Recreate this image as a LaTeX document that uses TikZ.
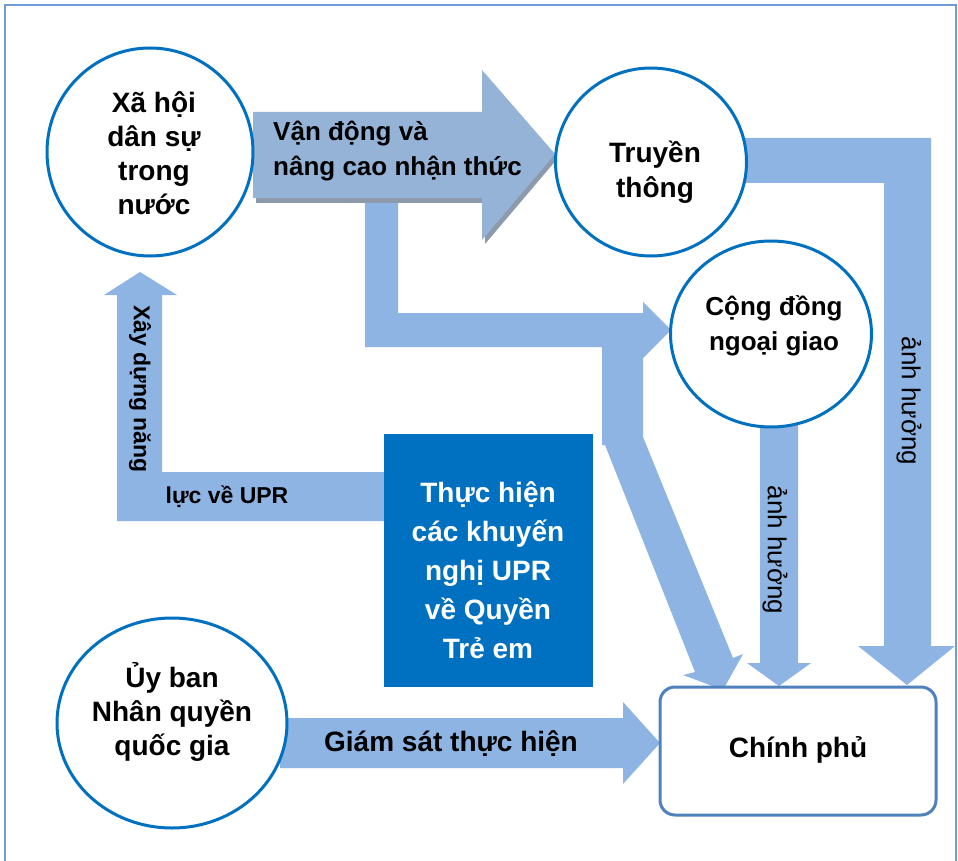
\documentclass[tikz,border=0pt]{standalone}
\usepackage{fontspec}
\setmainfont{Liberation Sans}
\usetikzlibrary{shapes.geometric}
\definecolor{band}{HTML}{8EB4E3}
\definecolor{bigarrow}{HTML}{95B3D7}
\definecolor{shadowc}{HTML}{8C9AAB}
\definecolor{circ}{HTML}{0070C0}
\definecolor{govb}{HTML}{4F81BD}
\definecolor{framec}{HTML}{6F9CD8}
\tikzset{
  bandshape/.style={fill=band, draw=none},
  bubble/.style={ellipse, draw=circ, line width=3pt, fill=white, inner sep=0pt},
  btxt/.style={font=\fontsize{28}{34}\selectfont\bfseries, align=center, inner sep=0pt},
  ltxt/.style={font=\fontsize{23}{28}\selectfont\bfseries, inner sep=0pt},
  rtxt/.style={font=\fontsize{26}{30}\selectfont, inner sep=0pt, rotate=-90},
}
\begin{document}
\begin{tikzpicture}[x=1pt,y=-1pt]
\useasboundingbox (0,0) rectangle (958,861);
\fill[white] (0,0) rectangle (958,861);
% frame
\draw[framec, line width=1.6pt] (5,861) -- (5,5) -- (956,5) -- (956,861);

% bands
\coordinate (tA) at (740,138);
\fill[bandshape] (tA) -- (931,138) -- (931,646) -- (955,646) -- (907,685) -- (858,646) -- (884,646) -- (884,183) -- (740,183) -- cycle;
\fill[bandshape] (760,420) -- (798,420) -- (798,663) -- (811,663) -- (779,686) -- (747,663) -- (760,663) -- cycle;
\fill[bandshape] (365,190) -- (398,190) -- (398,313) -- (643,313) -- (643,302) -- (671,330) -- (643,358) -- (643,347) -- (365,347) -- cycle;
\fill[bandshape] (602,340) -- (643,340) -- (643,437) -- (733,658) -- (743,654) -- (723,690) -- (683,675) -- (695,672) -- (605,445) -- (602,445) -- cycle;
\fill[bandshape] (390,472) -- (162,472) -- (162,295) -- (177,295) -- (140,272) -- (104,295) -- (117,295) -- (117,521) -- (390,521) -- cycle;
\fill[bandshape] (280,718) -- (623,718) -- (623,702) -- (660,743) -- (623,784) -- (623,768) -- (280,768) -- cycle;

% big arrow with shadow
\fill[shadowc] (256,116) -- (485,116) -- (485,74) -- (558,158) -- (485,244) -- (485,203) -- (256,203) -- cycle;
\fill[bigarrow] (253,112) -- (482,112) -- (482,70) -- (555,154) -- (482,240) -- (482,198) -- (253,198) -- cycle;
\node[ltxt, font=\fontsize{26}{35}\selectfont\bfseries, align=left, anchor=west] (vd) at (273,151) {Vận động và\\nâng cao nhận thức};

% circles
\node[bubble, minimum width=206pt, minimum height=208pt] (xh) at (150,152) {};
\node[bubble, minimum width=191pt, minimum height=188pt] (tt) at (651,162) {};
\node[bubble, minimum width=201pt, minimum height=186pt] (cd) at (771,334) {};
\node[bubble, minimum width=230pt, minimum height=210pt] (ub) at (172,723) {};

\node[btxt] (xht) at (154,153) {Xã hội\\dân sự\\trong\\nước};
\node[btxt, font=\fontsize{28}{35}\selectfont\bfseries] (ttt) at (655,172) {Truyền\\thông};
\node[btxt, font=\fontsize{26}{35}\selectfont\bfseries] (cdt) at (774,326) {Cộng đồng\\ngoại giao};
\node[btxt, font=\fontsize{28}{34}\selectfont\bfseries] (ubt) at (172,712) {Ủy ban\\Nhân quyền\\quốc gia};

% UPR box
\node[fill=circ, minimum width=209pt, minimum height=253pt, inner sep=0pt] (upr) at (488.5,560.5) {};
\node[btxt, text=white, font=\fontsize{28}{39}\selectfont\bfseries] (uprt) at (488,570) {Thực hiện\\các khuyến\\nghị UPR\\về Quyền\\Trẻ em};

% government box
\node[draw=govb, line width=3pt, rounded corners=15pt, fill=white, minimum width=276pt, minimum height=128pt, inner sep=0pt] (cp) at (798,751) {};
\node[btxt] (cpt) at (798,750) {Chính phủ};

% band labels
\node[btxt, font=\fontsize{28}{30}\selectfont\bfseries] (gs) at (451,744) {Giám sát thực hiện};
\node[ltxt, rotate=-90] (xd) at (140,389) {Xây dựng năng};
\node[ltxt] (lv) at (227,497) {lực về UPR};
\node[rtxt] (ah1) at (909,401) {ảnh hưởng};
\node[rtxt] (ah2) at (775,550) {ảnh hưởng};
\end{tikzpicture}
\end{document}
